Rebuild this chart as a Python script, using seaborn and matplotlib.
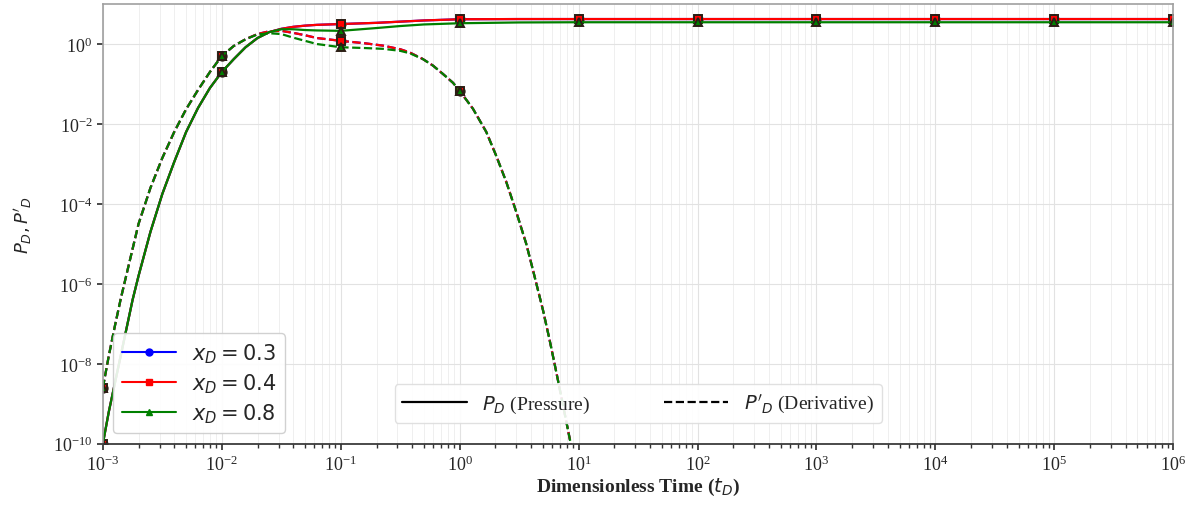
import numpy as np
import matplotlib
matplotlib.use("Agg")
import matplotlib.pyplot as plt
from matplotlib.lines import Line2D
import seaborn as sns

# ------------------------------------------------------------------
# Data: log10(t_D) and log10 of P_D / P'_D
# ------------------------------------------------------------------
logt_p = [-3.0, -2.95, -2.9, -2.85, -2.8, -2.75, -2.7, -2.6, -2.5, -2.4, -2.3, -2.2,
          -2.1, -2.0, -1.9, -1.8, -1.7, -1.6, -1.5, -1.4, -1.3, -1.2, -1.0, -0.7,
          -0.5, -0.3, 0.0, 0.5, 1.0, 2.0, 3.0, 4.0, 5.0, 6.0]
log_p_03 = [-10.0, -9.2, -8.5, -7.8, -7.1, -6.4, -5.8, -4.7, -3.75, -2.95, -2.2, -1.6,
            -1.1, -0.7, -0.38, -0.08, 0.15, 0.3, 0.38, 0.43, 0.46, 0.48, 0.50, 0.53,
            0.56, 0.59, 0.62, 0.625, 0.625, 0.625, 0.625, 0.625, 0.625, 0.625]
log_p_04 = [-10.0, -9.2, -8.5, -7.8, -7.1, -6.4, -5.8, -4.7, -3.75, -2.95, -2.2, -1.6,
            -1.1, -0.7, -0.38, -0.08, 0.15, 0.3, 0.38, 0.43, 0.46, 0.48, 0.50, 0.53,
            0.56, 0.59, 0.62, 0.625, 0.625, 0.625, 0.625, 0.625, 0.625, 0.625]
log_p_08 = [-10.0, -9.2, -8.5, -7.8, -7.1, -6.4, -5.8, -4.7, -3.75, -2.95, -2.2, -1.6,
            -1.1, -0.7, -0.38, -0.08, 0.15, 0.3, 0.37, 0.37, 0.35, 0.34, 0.33, 0.40,
            0.45, 0.49, 0.52, 0.54, 0.545, 0.545, 0.545, 0.545, 0.545, 0.545]

logt_d = [-3.0, -2.95, -2.9, -2.85, -2.8, -2.7, -2.6, -2.5, -2.4, -2.3, -2.2, -2.1,
          -2.0, -1.9, -1.8, -1.7, -1.6, -1.5, -1.4, -1.3, -1.2, -1.0, -0.8, -0.644,
          -0.5, -0.42, -0.31, -0.224, -0.14, -0.056, 0.0, 0.112, 0.224, 0.308, 0.392,
          0.476, 0.56, 0.616, 0.70, 0.756, 0.812, 0.87, 0.934, 1.0]
log_d_03 = [-8.6, -7.8, -7.07, -6.38, -5.75, -4.5, -3.6, -2.85, -2.2, -1.63, -1.15, -0.7,
            -0.3, -0.05, 0.12, 0.25, 0.32, 0.33, 0.28, 0.22, 0.15, 0.08, 0.02, -0.04,
            -0.13, -0.21, -0.375, -0.54, -0.75, -0.97, -1.17, -1.62, -2.2, -2.8, -3.45,
            -4.2, -5.0, -5.65, -6.65, -7.4, -8.2, -9.05, -10.0, -11.0]
log_d_04 = [-8.6, -7.8, -7.07, -6.38, -5.75, -4.5, -3.6, -2.85, -2.2, -1.63, -1.15, -0.7,
            -0.3, -0.05, 0.12, 0.25, 0.32, 0.33, 0.28, 0.22, 0.15, 0.08, 0.02, -0.04,
            -0.13, -0.21, -0.375, -0.54, -0.75, -0.97, -1.17, -1.62, -2.2, -2.8, -3.45,
            -4.2, -5.0, -5.65, -6.65, -7.4, -8.2, -9.05, -10.0, -11.0]
log_d_08 = [-8.6, -7.8, -7.07, -6.38, -5.75, -4.5, -3.6, -2.85, -2.2, -1.63, -1.15, -0.7,
            -0.3, -0.05, 0.12, 0.24, 0.27, 0.25, 0.16, 0.08, 0.0, -0.08, -0.1, -0.12,
            -0.17, -0.23, -0.375, -0.54, -0.75, -0.97, -1.17, -1.62, -2.2, -2.8, -3.45,
            -4.2, -5.0, -5.65, -6.65, -7.4, -8.2, -9.05, -10.0, -11.0]

cases = ["0.3", "0.4", "0.8"]
colors = ["blue", "red", "green"]
markers = ["o", "s", "^"]
pressure = [log_p_03, log_p_04, log_p_08]
derivative = [log_d_03, log_d_04, log_d_08]

# ------------------------------------------------------------------
sns.set_theme(style="whitegrid")
plt.rcParams["font.family"] = ["Liberation Serif", "DejaVu Serif"]
plt.rcParams["mathtext.fontset"] = "dejavusans"


def decade_idx(logt):
    return [i for i, v in enumerate(logt) if abs(v - round(v)) < 1e-9]


fig, ax = plt.subplots(figsize=(11.96, 5.06), dpi=100)
fig.subplots_adjust(left=0.086, right=0.981, top=0.99, bottom=0.121)

mk = dict(markersize=6, markeredgecolor="#2b1d14", markeredgewidth=1.4)
for name, c, m, p, d in zip(cases, colors, markers, pressure, derivative):
    sns.lineplot(x=10 ** np.array(logt_p), y=10 ** np.array(p), ax=ax, color=c,
                 marker=m, markevery=decade_idx(logt_p), linewidth=1.6,
                 sort=False, estimator=None, **mk)
    sns.lineplot(x=10 ** np.array(logt_d), y=10 ** np.array(d), ax=ax, color=c,
                 marker=m, markevery=decade_idx(logt_d), linewidth=1.6, linestyle="--",
                 sort=False, estimator=None, **mk)

ax.set_xscale("log")
ax.set_yscale("log")
ax.set_xlim(1e-3, 1e6)
ax.set_ylim(1e-10, 1e1)
ax.set_xticks([10.0 ** k for k in range(-3, 7)])
ax.set_yticks([10.0 ** k for k in range(-10, 1, 2)])
ax.yaxis.set_minor_locator(matplotlib.ticker.NullLocator())
ax.tick_params(axis="both", which="major", labelsize=13, length=4, color="#333333",
               bottom=True, left=True)
ax.tick_params(axis="x", which="minor", length=3, color="#333333", bottom=True)

ax.grid(which="major", color="#e2e2e2", linewidth=0.8)
ax.grid(which="minor", axis="x", color="#ececec", linewidth=0.6)
for side in ["top", "right", "left"]:
    ax.spines[side].set_color("#a0a0a0")
    ax.spines[side].set_linewidth(1.2)
ax.spines["bottom"].set_color("#333333")

ax.set_xlabel(r"Dimensionless Time ($t_D$)", fontsize=14, fontweight="bold", labelpad=2)
ax.set_ylabel(r"$P_D, P'_D$", fontsize=13, labelpad=14)

h1 = [Line2D([], [], color=c, marker=m, markersize=5, linewidth=1.5,
             label=rf"$x_D = {n}$") for n, c, m in zip(cases, colors, markers)]
leg1 = ax.legend(handles=h1, loc="lower left", fontsize=15, handlelength=2.6,
                 borderaxespad=0.5, frameon=True, framealpha=0.9, edgecolor="#cccccc",
                 labelspacing=0.3)
ax.add_artist(leg1)

h2 = [Line2D([], [], color="black", linewidth=1.6, linestyle="-",
             label=r"$P_D$ (Pressure)"),
      Line2D([], [], color="black", linewidth=1.6, linestyle="--",
             label=r"$P'_D$ (Derivative)")]
ax.legend(handles=h2, loc="lower center", bbox_to_anchor=(0.5, 0.025), ncol=2,
          fontsize=14, handlelength=3.3, columnspacing=3.8, frameon=True,
          framealpha=0.9, edgecolor="#dddddd")

fig.savefig("out.png", dpi=100)
